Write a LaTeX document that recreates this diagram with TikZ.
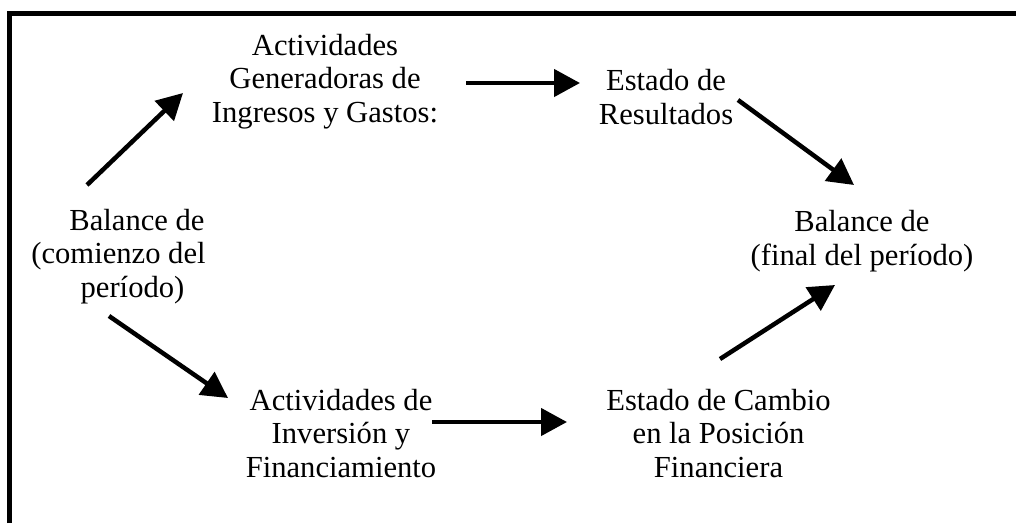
\documentclass[tikz,border=0pt]{standalone}
\usepackage{fontspec}
\setmainfont{Liberation Serif}
\usetikzlibrary{arrows.meta}
\begin{document}
\begin{tikzpicture}[x=1pt,y=-1pt,
  lbl/.style={align=center,inner sep=0pt,anchor=base,font=\fontsize{30.6}{33.5}\selectfont},
  flow/.style={line width=4.5pt,-{Triangle[length=26pt,width=27pt]}},
  frame/.style={line width=5pt}]
\useasboundingbox (0,0) rectangle (1016,523);
\draw[frame] (9.5,523) -- (9.5,13.5) -- (1016,13.5);
\node[lbl] (ag) at (325,122) {Actividades\\Generadoras de\\Ingresos y Gastos:};
\node[lbl] (er) at (666,124) {Estado de\\Resultados};
\node[lbl] (bi) at (118.5,297) {\kern37pt Balance de\\(comienzo del\\\kern28pt período)};
\node[lbl] (bf) at (862,265) {Balance de\\(final del período)};
\node[lbl] (ai) at (341,477) {Actividades de\\Inversión y\\Financiamiento};
\node[lbl] (ec) at (718.5,477) {Estado de Cambio\\en la Posición\\Financiera};
\coordinate (a1s) at (87,185);  \coordinate (a1e) at (183,93);
\coordinate (a2s) at (466,83);  \coordinate (a2e) at (580,83);
\coordinate (a3s) at (738,100); \coordinate (a3e) at (854,185);
\coordinate (a4s) at (720,359); \coordinate (a4e) at (835,285);
\coordinate (a5s) at (109,316); \coordinate (a5e) at (228,398);
\coordinate (a6s) at (432,422); \coordinate (a6e) at (567,422);
\draw[flow] (a1s) -- (a1e);
\draw[flow] (a2s) -- (a2e);
\draw[flow] (a3s) -- (a3e);
\draw[flow] (a4s) -- (a4e);
\draw[flow] (a5s) -- (a5e);
\draw[flow] (a6s) -- (a6e);
\end{tikzpicture}
\end{document}
